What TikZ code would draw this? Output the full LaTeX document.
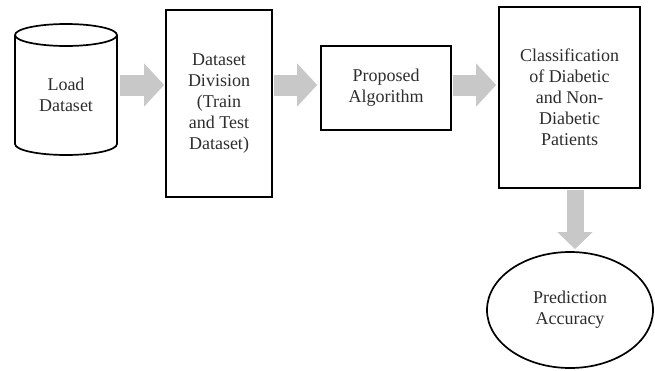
\documentclass[tikz,border=0pt]{standalone}
\usepackage{fontspec}
\setmainfont{Liberation Serif}
\usetikzlibrary{arrows.meta,shapes.geometric,calc}
\definecolor{arrowgray}{RGB}{200,200,200}
\definecolor{txtgray}{RGB}{45,45,45}
\begin{document}
\begin{tikzpicture}[x=1pt,y=-1pt,
  txt/.style={font=\fontsize{18}{21}\selectfont, text=txtgray, align=center},
  box/.style={txt, draw, line width=1.7pt, inner sep=0pt},
  blkh/.style={draw=arrowgray, line width=21pt, -{Triangle[length=20pt,width=42pt]}},
  blkv/.style={draw=arrowgray, line width=17pt, -{Triangle[length=17pt,width=34pt]}},
  outline/.style={line width=1.7pt}
]
\useasboundingbox (0,0) rectangle (655,370);
% nodes
\node[txt, minimum width=102pt, minimum height=132pt, inner sep=0pt] (load) at (66,95) {Load\\Dataset};
\node[box, minimum width=106pt, minimum height=187pt] (div) at (219,103.5) {Dataset\\Division\\(Train\\and Test\\Dataset)};
\node[box, minimum width=130pt, minimum height=84pt] (alg) at (386,88) {Proposed\\Algorithm};
\node[box, minimum width=141pt, minimum height=181pt] (cls) at (569.5,97.5) {Classification\\of Diabetic\\and Non-\\Diabetic\\Patients};
\node[txt, draw, ellipse, outline, minimum width=166pt, minimum height=116pt, inner sep=0pt] (acc) at (570,310) {Prediction\\Accuracy};
% cylinder
\draw[outline] ($(load)+(-51,-60)$) -- ($(load)+(-51,49)$)
  arc[start angle=180, end angle=360, x radius=51pt, y radius=11pt]
  -- ($(load)+(51,-60)$);
\draw[outline] ($(load)+(0,-60)$) ellipse [x radius=51pt, y radius=11pt];
% connectors
\coordinate (row) at (0,85);
\coordinate (col) at (575,0);
\draw[blkh] ([xshift=3pt]load.east |- row) -- ([xshift=-1pt]div.west |- row);
\draw[blkh] ([xshift=1pt]div.east |- row) -- ([xshift=-3pt]alg.west |- row);
\draw[blkh] ([xshift=1pt]alg.east |- row) -- ([xshift=-2pt]cls.west |- row);
\draw[blkv] ([yshift=-1pt]cls.south -| col) -- ([yshift=2pt]acc.north -| col);
\end{tikzpicture}
\end{document}
